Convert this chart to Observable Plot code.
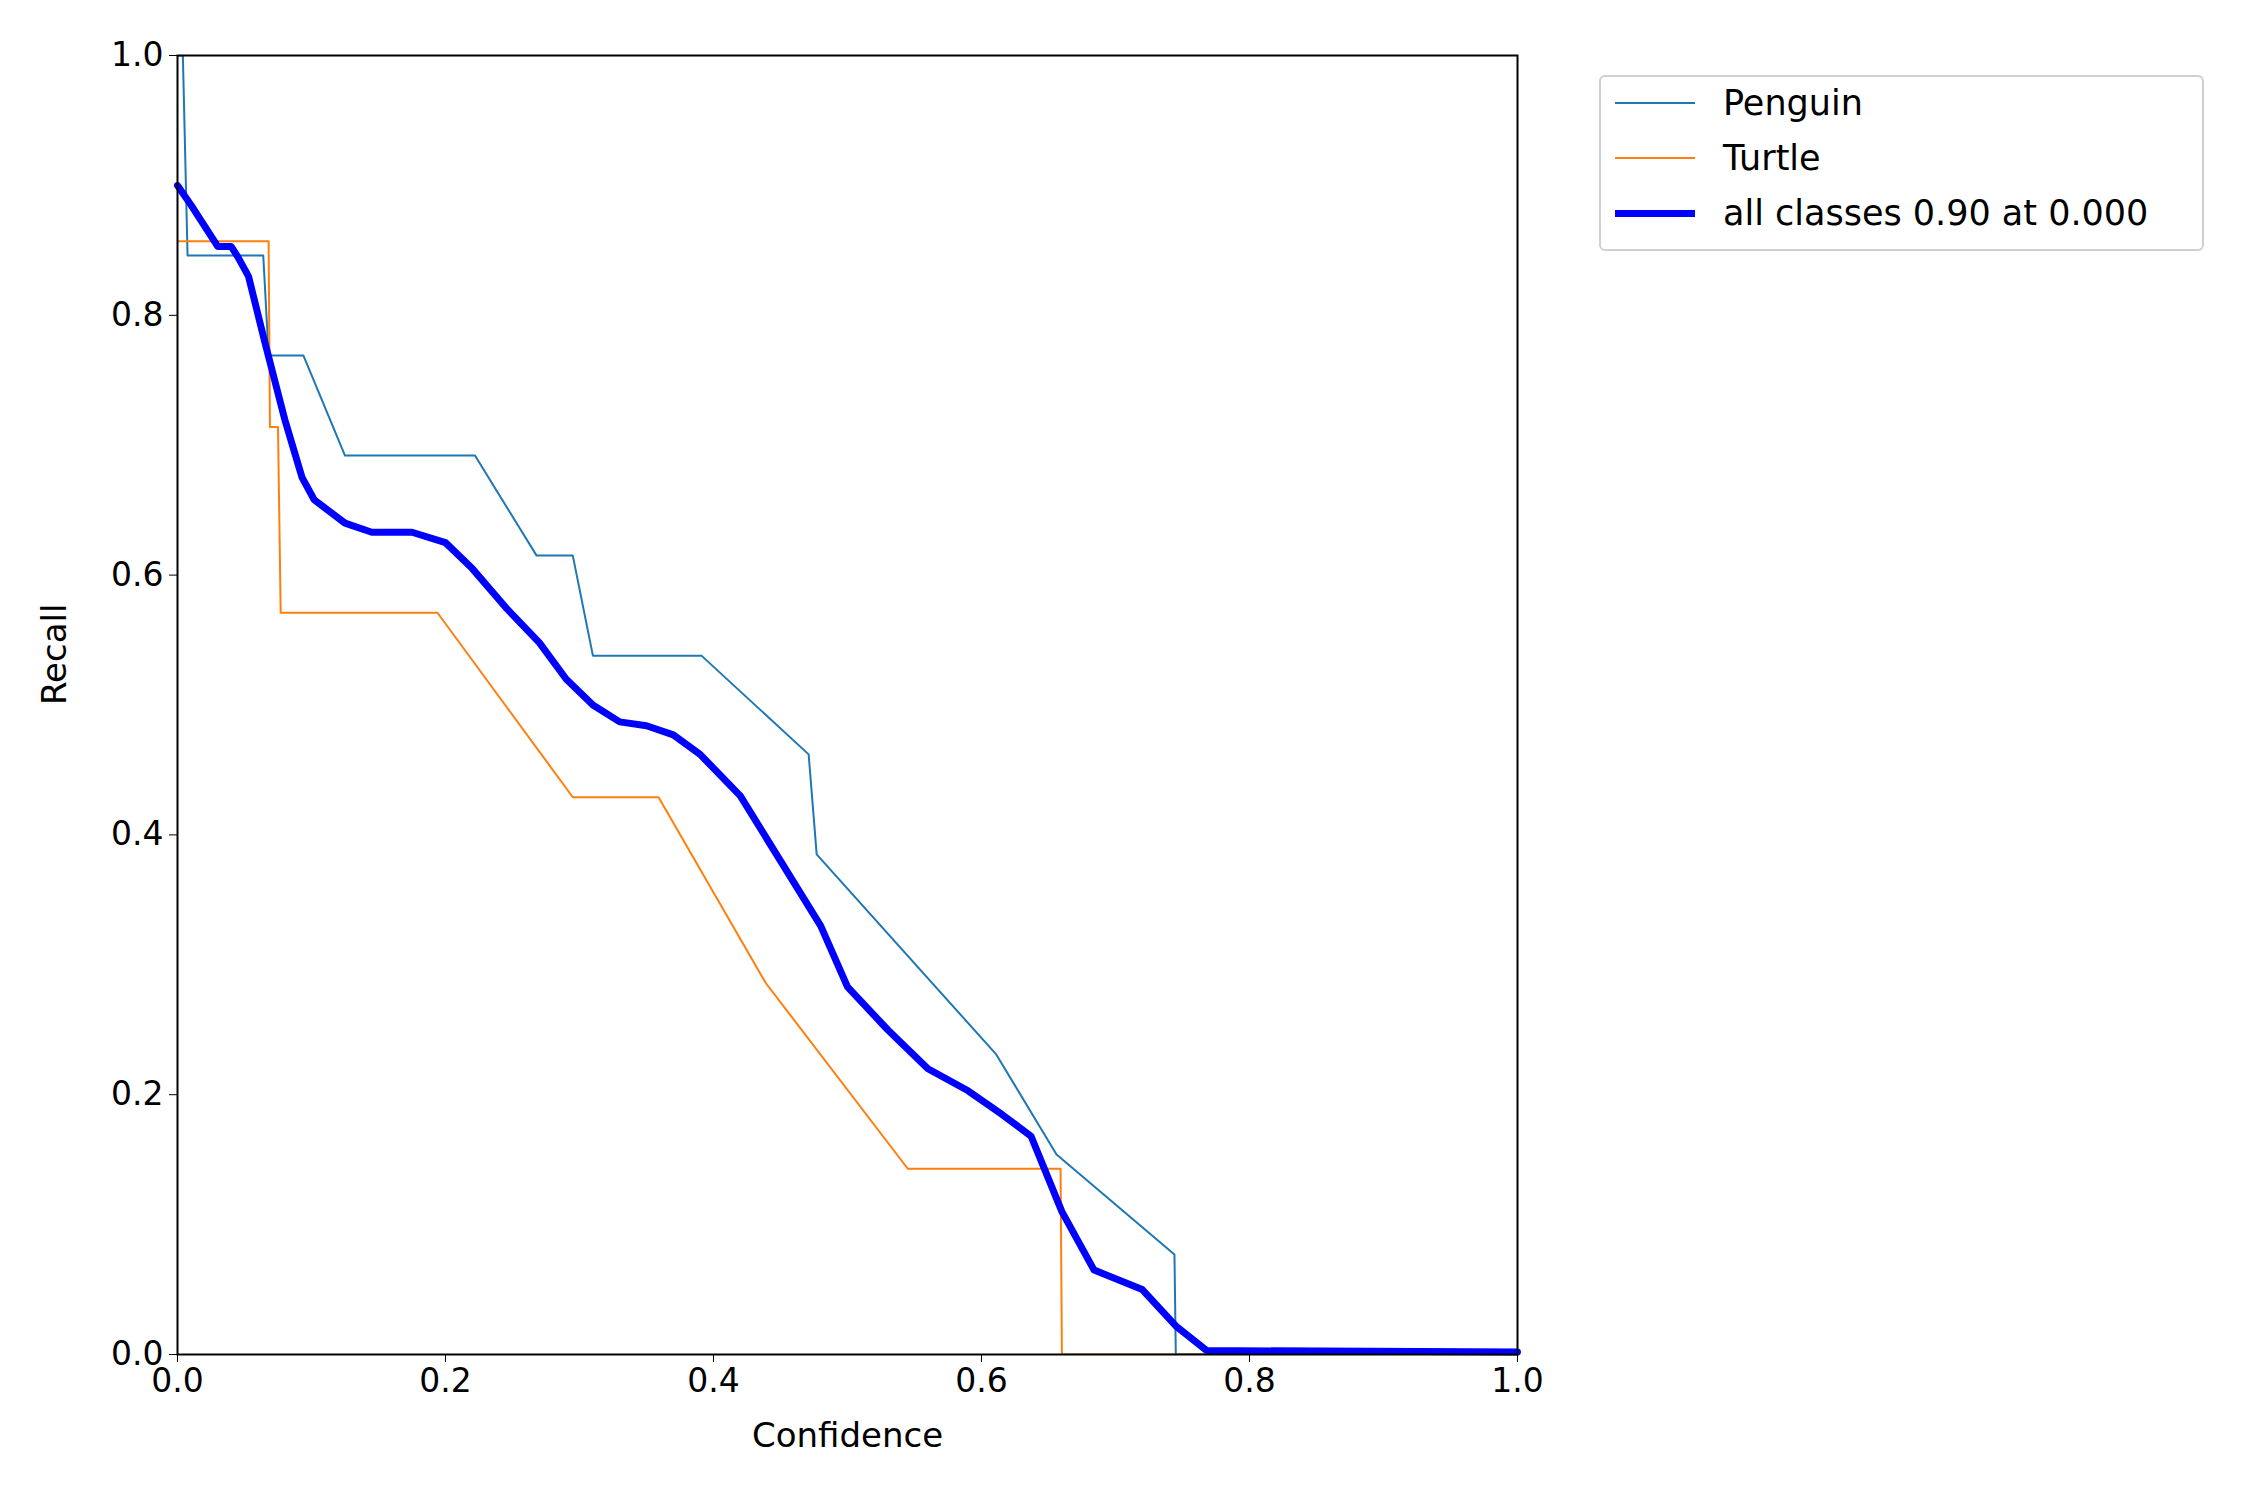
<!DOCTYPE html>
<html>
<head>
<meta charset="utf-8">
<script src="https://cdn.jsdelivr.net/npm/d3@7"></script>
<script src="https://cdn.jsdelivr.net/npm/@observablehq/plot@0.6"></script>
<style>
  body { margin: 0; background: white; font-family: 'DejaVu Sans', sans-serif; }
  #wrap { position: relative; width: 2250px; height: 1500px; }
  #legend { position: absolute; left: 1599px; top: 75px; width: 605px; height: 176px;
    border: 2px solid #d0d0d0; border-radius: 6px; box-sizing: border-box; font-size: 35px; background: white; }
  .row { position: absolute; left: 14px; display: flex; align-items: center; }
  .sw { width: 80px; margin-right: 28px; }
</style>
</head>
<body>
<div id="wrap">
  <div id="chart"></div>
  <div id="legend">
    <div class="row" style="top:6px"><div class="sw" style="border-top:2px solid #1f77b4"></div>Penguin</div>
    <div class="row" style="top:61px"><div class="sw" style="border-top:2px solid #ff7f0e"></div>Turtle</div>
    <div class="row" style="top:116px"><div class="sw" style="border-top:7px solid #0000ff"></div>all classes 0.90 at 0.000</div>
  </div>
</div>
<script>
const penguinX = [0, 0.004, 0.0075, 0.064, 0.068, 0.094, 0.125, 0.222, 0.268, 0.295, 0.310, 0.391, 0.471, 0.477, 0.611, 0.656, 0.744, 0.745, 1.0]
const penguinY = [1.0, 1.0, 0.846, 0.846, 0.769, 0.769, 0.692, 0.692, 0.615, 0.615, 0.538, 0.538, 0.462, 0.385, 0.231, 0.154, 0.077, 0, 0]

const turtleX = [0, 0.068, 0.069, 0.075, 0.077, 0.194, 0.295, 0.359, 0.439, 0.545, 0.659, 0.660, 1.0]
const turtleY = [0.857, 0.857, 0.714, 0.714, 0.571, 0.571, 0.429, 0.429, 0.286, 0.143, 0.143, 0, 0]

const allX = [0, 0.01, 0.03, 0.04, 0.045, 0.053, 0.065, 0.08, 0.093, 0.102, 0.125, 0.145, 0.175, 0.2, 0.22, 0.245, 0.27, 0.29, 0.31, 0.33, 0.35, 0.37, 0.39, 0.42, 0.45, 0.48, 0.5, 0.53, 0.56, 0.59, 0.615, 0.637, 0.66, 0.684, 0.72, 0.745, 0.768, 1.0]
const allY = [0.90, 0.885, 0.853, 0.853, 0.845, 0.83, 0.78, 0.72, 0.675, 0.658, 0.64, 0.633, 0.633, 0.625, 0.605, 0.575, 0.548, 0.52, 0.5, 0.487, 0.484, 0.477, 0.462, 0.43, 0.38, 0.33, 0.283, 0.25, 0.22, 0.203, 0.185, 0.168, 0.11, 0.065, 0.05, 0.022, 0.003, 0.002]

const ticks = [0, 0.2, 0.4, 0.6, 0.8, 1.0]

const zip = (xs, ys) => xs.map((x, i) => ({x, y: ys[i]}))

let chart = Plot.plot({
  width: 2250,
  height: 1500,
  marginLeft: 177,
  marginRight: 733,
  marginTop: 55,
  marginBottom: 146,
  x: {domain: [0, 1]},
  y: {domain: [0, 1]},
  style: {fontFamily: 'DejaVu Sans, sans-serif', fontSize: '33px', color: 'black'},
  marks: [
    Plot.line(zip(penguinX, penguinY), {x: 'x', y: 'y', stroke: '#1f77b4', strokeWidth: 2, clip: true}),
    Plot.line(zip(turtleX, turtleY), {x: 'x', y: 'y', stroke: '#ff7f0e', strokeWidth: 2, clip: true}),
    Plot.line(zip(allX, allY), {x: 'x', y: 'y', stroke: '#0000ff', strokeWidth: 7, strokeLinejoin: 'round'}),
    Plot.frame({stroke: 'black', strokeWidth: 2}),
    Plot.axisX(ticks, {tickFormat: d3.format('.1f'), tickSize: 8, tickPadding: 6, label: null, fontSize: 33}),
    Plot.axisY(ticks, {tickFormat: d3.format('.1f'), tickSize: 8, tickPadding: 6, label: null, fontSize: 33}),
    Plot.text(['Confidence'], {frameAnchor: 'bottom', dy: 92, fontSize: 34}),
    Plot.text(['Recall'], {frameAnchor: 'left', dx: -122, rotate: -90, fontSize: 34})
  ]
})

d3.select('#chart').append(() => chart)
</script>
</body>
</html>
